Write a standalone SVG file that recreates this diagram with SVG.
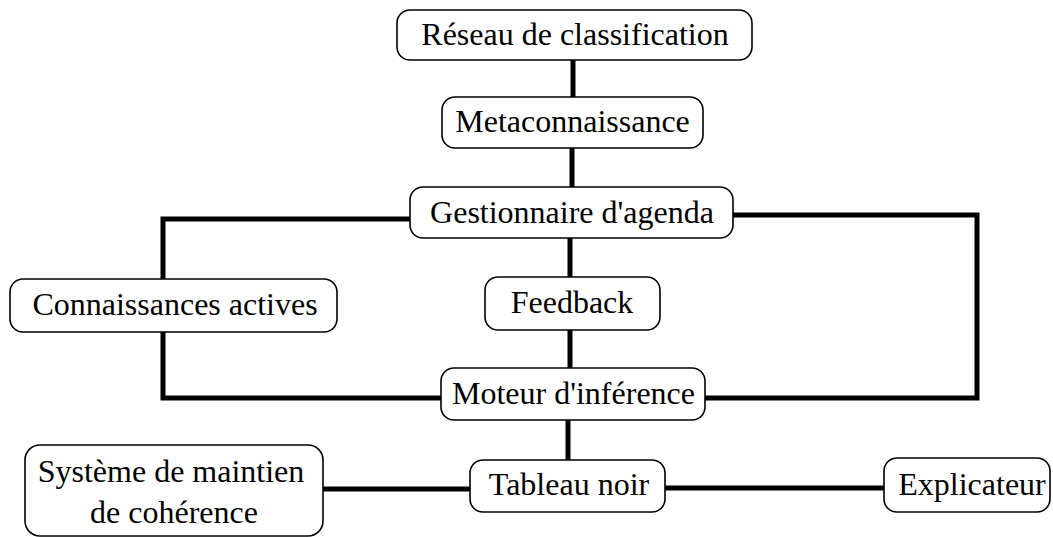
<svg xmlns="http://www.w3.org/2000/svg" width="1053" height="537" viewBox="0 0 1053 537">
<style>
.box{fill:#fff;stroke:#000;stroke-width:1.6}
.t{font-family:"Liberation Serif","Times New Roman",serif;font-size:32px;fill:#000;text-anchor:middle}
.c{fill:none;stroke:#000;stroke-width:5;stroke-linejoin:miter}
</style>
<rect width="1053" height="537" fill="#fff"/>
<g id="connectors">
<path class="c" d="M573 60V97"/>
<path class="c" d="M572 148V187"/>
<path class="c" d="M410 219H163V398H442"/>
<path class="c" d="M733 215H977V398H705"/>
<path class="c" d="M570 238V277"/>
<path class="c" d="M570 330V368"/>
<path class="c" d="M568 420V460"/>
<path class="c" d="M323 489H470"/>
<path class="c" d="M665 488H884"/>
</g>
<g id="reseau"><rect class="box" x="397" y="10" width="355" height="50" rx="13"/><text class="t" x="575" y="45">Réseau de classification</text></g>
<g id="meta"><rect class="box" x="442" y="97" width="261" height="51" rx="13"/><text class="t" x="572.500" y="132">Metaconnaissance</text></g>
<g id="gestionnaire"><rect class="box" x="410" y="187" width="323" height="51" rx="13"/><text class="t" x="572" y="223">Gestionnaire d'agenda</text></g>
<g id="connaissances"><rect class="box" x="10" y="279" width="327" height="53" rx="13"/><text class="t" x="175" y="315">Connaissances actives</text></g>
<g id="feedback"><rect class="box" x="485" y="277" width="175" height="53" rx="13"/><text class="t" x="572" y="313">Feedback</text></g>
<g id="moteur"><rect class="box" x="441" y="368" width="264" height="52" rx="13"/><text class="t" x="573.500" y="404">Moteur d'inférence</text></g>
<g id="tableau"><rect class="box" x="470" y="460" width="195" height="52" rx="13"/><text class="t" x="569" y="495">Tableau noir</text></g>
<g id="systeme"><rect class="box" x="25" y="445" width="298" height="91" rx="15"/><text class="t" x="171" y="482">Système de maintien</text><text class="t" x="174" y="523">de cohérence</text></g>
<g id="explicateur"><rect class="box" x="884" y="458" width="166" height="54" rx="13"/><text class="t" x="972" y="495">Explicateur</text></g>
</svg>
